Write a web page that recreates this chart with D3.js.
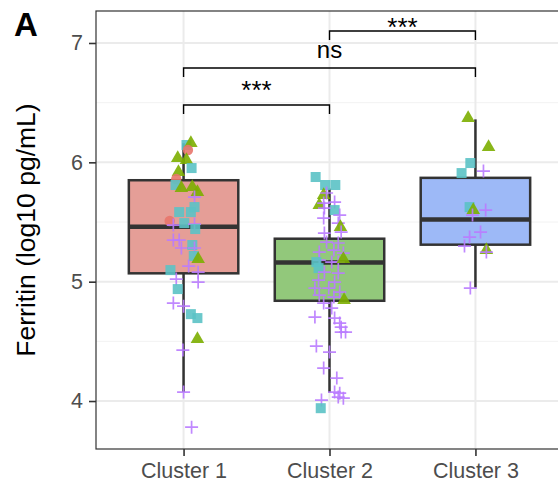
<!DOCTYPE html>
<html>
<head>
<meta charset="utf-8">
<style>
    body { margin: 0; background: #fff; }
    svg { display: block; font-family: 'Liberation Sans', Arial, sans-serif; }
</style>
</head>
<body>
<svg width="558" height="483"></svg>
<script src="https://d3js.org/d3.v7.min.js"></script>
<script>

    let clusters = ["Cluster 1", "Cluster 2", "Cluster 3"]
    let boxFill = ["#E59E97", "#92C87B", "#9DB9F7"]

    // box stats: lower whisker, q1, median, q3, upper whisker
    let whiskerLow = [4.075, 4.07, 4.95]
    let q1 = [5.07, 4.84, 5.31]
    let median = [5.46, 5.16, 5.52]
    let q3 = [5.85, 5.36, 5.87]
    let whiskerHigh = [6.16, 5.78, 6.36]

    // jittered points: [x jitter (in category steps), log10 ferritin, subgroup]
    // subgroup: 1 circle, 2 triangle, 3 square, 4 plus
    let cluster1 = [
        [0.02, 6.145, 3], [0.05, 6.162, 2], [0.03, 6.103, 1], [-0.04, 6.036, 2], [0.02, 6.019, 2],
        [0.055, 5.952, 3], [-0.035, 5.919, 2], [-0.05, 5.86, 1], [-0.055, 5.81, 3], [-0.015, 5.785, 2],
        [0.06, 5.793, 2], [0.095, 5.751, 2], [0.075, 5.709, 4], [-0.03, 5.583, 3], [0.05, 5.583, 3],
        [0.075, 5.625, 3], [-0.095, 5.508, 1], [-0.07, 5.474, 4], [0.005, 5.491, 3], [0.075, 5.483, 4],
        [0.08, 5.441, 3], [-0.07, 5.349, 4], [-0.03, 5.349, 4], [-0.015, 5.282, 4], [0.06, 5.307, 3],
        [0.075, 5.282, 4], [0.07, 5.215, 3], [0.1, 5.189, 2], [0.035, 5.131, 4], [0.1, 5.08, 4],
        [-0.09, 5.097, 3], [-0.05, 5.022, 4], [0.1, 4.997, 4], [-0.04, 4.938, 3], [-0.07, 4.821, 4],
        [0.0, 4.795, 4], [0.05, 4.728, 3], [0.095, 4.695, 3], [0.095, 4.519, 2], [-0.005, 4.427, 4],
        [0.0, 4.075, 4], [0.055, 3.781, 4]
    ]
    let cluster2 = [
        [-0.095, 5.877, 3], [-0.03, 5.81, 3], [0.04, 5.81, 3], [-0.04, 5.726, 2], [-0.02, 5.743, 4],
        [-0.07, 5.642, 2], [0.035, 5.667, 4], [0.035, 5.6, 3], [-0.04, 5.659, 4], [-0.035, 5.617, 4],
        [0.07, 5.558, 4], [-0.04, 5.533, 4], [0.06, 5.491, 4], [0.075, 5.458, 2], [-0.035, 5.407, 4],
        [0.08, 5.416, 4], [-0.02, 5.332, 4], [0.06, 5.324, 4], [-0.07, 5.248, 4], [0.03, 5.265, 4],
        [0.095, 5.24, 4], [-0.07, 5.181, 4], [0.015, 5.164, 4], [0.06, 5.164, 4], [-0.09, 5.164, 3],
        [-0.075, 5.114, 3], [0.095, 5.189, 2], [-0.035, 5.08, 4], [0.06, 5.072, 4], [-0.075, 5.013, 4],
        [0.035, 4.997, 4], [-0.1, 4.946, 4], [-0.005, 4.946, 4], [0.07, 4.913, 4], [-0.07, 4.888, 4],
        [0.03, 4.871, 4], [0.1, 4.846, 2], [-0.04, 4.821, 4], [0.015, 4.779, 4], [-0.1, 4.703, 4],
        [0.035, 4.695, 4], [0.07, 4.653, 4], [0.08, 4.619, 4], [0.08, 4.578, 4], [0.11, 4.578, 4],
        [-0.09, 4.46, 4], [0.0, 4.41, 4], [-0.04, 4.276, 4], [0.05, 4.192, 4], [0.035, 4.075, 4],
        [0.07, 4.066, 4], [0.095, 4.024, 4], [0.06, 4.033, 4], [-0.055, 4.008, 4], [-0.06, 3.94, 3]
    ]
    let cluster3 = [
        [-0.05, 6.37, 2], [0.09, 6.128, 2], [-0.035, 5.994, 3], [-0.095, 5.91, 3], [0.055, 5.927, 4],
        [-0.04, 5.625, 3], [-0.015, 5.6, 2], [0.07, 5.6, 4], [-0.02, 5.558, 4], [0.035, 5.416, 4],
        [-0.04, 5.374, 4], [-0.075, 5.298, 4], [0.075, 5.265, 2], [0.075, 5.248, 4], [-0.035, 4.946, 4]
    ]
    let pointColor = { 1: "#E8766C", 2: "#7CAE00", 3: "#5BC2C5", 4: "#BA7CFF" }

    // significance brackets: [from, to, label]
    let comparisons = [
        ["Cluster 1", "Cluster 2", "***"],
        ["Cluster 1", "Cluster 3", "ns"],
        ["Cluster 2", "Cluster 3", "***"]
    ]
    let bracketY = [6.48, 6.79, 7.1]
    let labelY = [6.656, 6.925, 7.184]

    let yTicks = [4, 5, 6, 7]
    let yMinor = [4.5, 5.5, 6.5]

    let svg = d3.select("svg")
    let pLeft = 96, pTop = 11, pRight = 563, pBottom = 449

    let x = d3.scalePoint().domain(clusters).range([pLeft, pRight]).padding(0.6)
    let step = x.step()
    let y = d3.scaleLinear().domain([3.598, 7.268]).range([pBottom, pTop])

    // grid
    svg.selectAll(".minor").data(yMinor).join("line")
        .attr("x1", pLeft).attr("x2", pRight)
        .attr("y1", d => y(d)).attr("y2", d => y(d))
        .style("stroke", "#F2F2F2").style("stroke-width", 1)
    svg.selectAll(".major").data(yTicks).join("line")
        .attr("x1", pLeft).attr("x2", pRight)
        .attr("y1", d => y(d)).attr("y2", d => y(d))
        .style("stroke", "#EBEBEB").style("stroke-width", 2)
    svg.selectAll(".vgrid").data(clusters).join("line")
        .attr("x1", d => x(d)).attr("x2", d => x(d))
        .attr("y1", pTop).attr("y2", pBottom)
        .style("stroke", "#EBEBEB").style("stroke-width", 2)

    // boxes
    let boxW = step * 0.75
    let boxes = svg.append("g")
    clusters.forEach((c, i) => {
        let cx = x(c)
        boxes.append("line")
            .attr("x1", cx).attr("x2", cx)
            .attr("y1", y(whiskerHigh[i])).attr("y2", y(q3[i]))
            .style("stroke", "#333").style("stroke-width", 2.5)
        boxes.append("line")
            .attr("x1", cx).attr("x2", cx)
            .attr("y1", y(q1[i])).attr("y2", y(whiskerLow[i]))
            .style("stroke", "#333").style("stroke-width", 2.5)
        boxes.append("rect")
            .attr("x", cx - boxW / 2).attr("width", boxW)
            .attr("y", y(q3[i])).attr("height", y(q1[i]) - y(q3[i]))
            .style("fill", boxFill[i])
            .style("stroke", "#333").style("stroke-width", 2.5)
        boxes.append("line")
            .attr("x1", cx - boxW / 2).attr("x2", cx + boxW / 2)
            .attr("y1", y(median[i])).attr("y2", y(median[i]))
            .style("stroke", "#333").style("stroke-width", 4.5)
    })

    // points
    let pts = svg.append("g")
    let triangle = d3.symbol().type(d3.symbolTriangle).size(80)
    ;[cluster1, cluster2, cluster3].forEach((arr, i) => {
        arr.forEach(p => {
            let px = x(clusters[i]) + p[0] * step
            let py = y(p[1])
            let col = pointColor[p[2]]
            if (p[2] === 1) {
                pts.append("circle").attr("cx", px).attr("cy", py).attr("r", 5.2)
                    .style("fill", col).style("opacity", 0.9)
            } else if (p[2] === 2) {
                pts.append("path").attr("d", triangle)
                    .attr("transform", `translate(${px},${py})`)
                    .style("fill", col).style("opacity", 0.9)
            } else if (p[2] === 3) {
                pts.append("rect").attr("x", px - 5).attr("y", py - 5)
                    .attr("width", 10).attr("height", 10)
                    .style("fill", col).style("opacity", 0.9)
            } else {
                pts.append("path")
                    .attr("d", `M${px - 6.5},${py}H${px + 6.5}M${px},${py - 6.5}V${py + 6.5}`)
                    .style("stroke", col).style("stroke-width", 1.7).style("opacity", 0.9)
            }
        })
    })

    // panel border
    svg.append("rect")
        .attr("x", pLeft).attr("y", pTop)
        .attr("width", pRight - pLeft).attr("height", pBottom - pTop)
        .style("fill", "none").style("stroke", "#333").style("stroke-width", 1.2)

    // axes
    let yAxis = svg.append("g")
        .attr("transform", `translate(${pLeft},0)`)
        .call(d3.axisLeft(y).tickValues(yTicks).tickFormat(d3.format("d")).tickSize(7).tickPadding(6))
    yAxis.select(".domain").remove()
    yAxis.selectAll("line").style("stroke", "#333").style("stroke-width", 1.6)
    yAxis.selectAll("text").style("font-size", "21.5px").style("fill", "#4D4D4D")
        .style("font-family", "'Liberation Sans', Arial, sans-serif")

    let xAxis = svg.append("g")
        .attr("transform", `translate(0,${pBottom})`)
        .call(d3.axisBottom(x).tickSize(7).tickPadding(7))
    xAxis.select(".domain").remove()
    xAxis.selectAll("line").style("stroke", "#333").style("stroke-width", 1.6)
    xAxis.selectAll("text").style("font-size", "21.5px").style("fill", "#4D4D4D")
        .style("font-family", "'Liberation Sans', Arial, sans-serif")

    svg.append("text")
        .attr("transform", `translate(35,${(pTop + pBottom) / 2}) rotate(-90)`)
        .attr("text-anchor", "middle")
        .style("font-size", "26.5px")
        .text("Ferritin (log10 pg/mL)")

    svg.append("text")
        .attr("x", 14).attr("y", 36)
        .style("font-size", "33px").style("font-weight", "bold")
        .text("A")

    // brackets
    let tick = 0.075
    comparisons.forEach((c, i) => {
        let x1 = x(c[0]), x2 = x(c[1]), by = bracketY[i]
        let isNs = c[2] === "ns"
        svg.append("path")
            .attr("d", `M${x1},${y(by - tick)}V${y(by)}H${x2}V${y(by - tick)}`)
            .style("fill", "none").style("stroke", "#000").style("stroke-width", 1.4)
        svg.append("text")
            .attr("x", (x1 + x2) / 2)
            .attr("y", y(labelY[i]) + (isNs ? 6.5 : 15))
            .attr("text-anchor", "middle")
            .style("font-size", isNs ? "24px" : "26px")
            .text(c[2])
    })

</script>
</body>
</html>
